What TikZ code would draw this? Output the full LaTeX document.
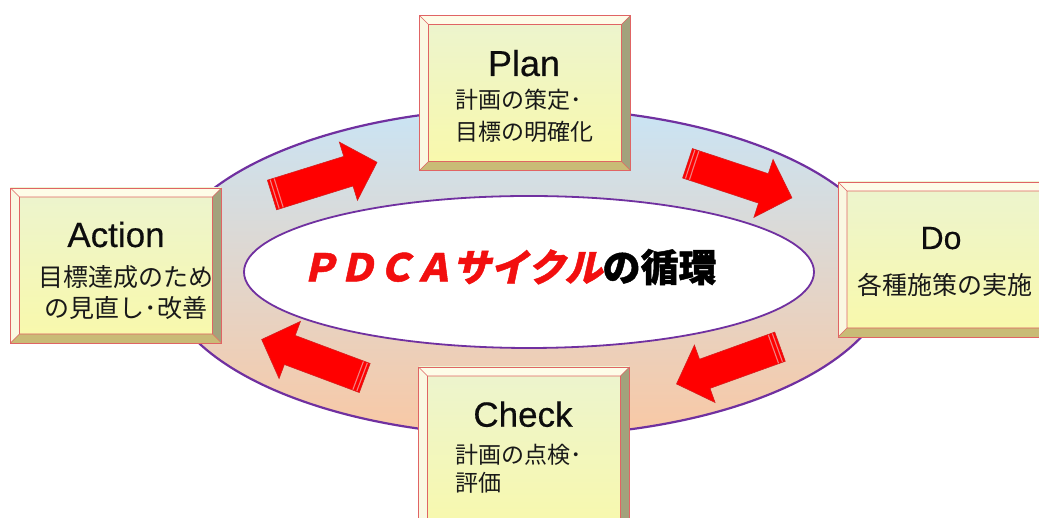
\documentclass[tikz,border=0pt]{standalone}
\usepackage{fontspec}
\usetikzlibrary{shapes.geometric}
\newfontfamily\cjk{Noto Sans CJK JP}
\newfontfamily\cjkslant[FakeSlant=0.22,FakeBold=1.2]{Noto Sans CJK JP}
\newfontfamily\cjkheavy[FakeBold=1.2]{Noto Sans CJK JP}
\newfontfamily\latin[FakeBold=0.4]{Liberation Sans}
\definecolor{ringtop}{HTML}{C9E4F5}
\definecolor{ringmid}{HTML}{E2DEDB}
\definecolor{ringbot}{HTML}{F9C8A4}
\definecolor{ringline}{HTML}{7030A0}
\definecolor{arrowred}{HTML}{FF0000}
\definecolor{arrowedge}{HTML}{D42020}
\definecolor{stripecol}{HTML}{F08080}
\definecolor{facetop}{HTML}{ECF4CF}
\definecolor{facebot}{HTML}{F9F9AA}
\definecolor{bevtop}{HTML}{FEFCE8}
\definecolor{bevleft}{HTML}{FAF8E2}
\definecolor{bevright}{HTML}{A2A27C}
\definecolor{bevbot}{HTML}{C9BB76}
\definecolor{boxline}{HTML}{E06464}
\definecolor{titlered}{HTML}{F20F0F}
\newcommand\boxbevel{%
  \path (path picture bounding box.south west) coordinate (bsw)
        (path picture bounding box.north east) coordinate (bne);
  \path (bsw |- bne) coordinate (bnw) (bne |- bsw) coordinate (bse);
  \path ([shift={(9pt,9pt)}]bsw) coordinate (isw) ([shift={(-9pt,-9pt)}]bne) coordinate (ine);
  \path (isw |- ine) coordinate (inw) (ine |- isw) coordinate (ise);
  \fill[bevtop] (bnw) -- (bne) -- (ine) -- (inw) -- cycle;
  \fill[bevleft] (bnw) -- (bsw) -- (isw) -- (inw) -- cycle;
  \fill[bevright] (bne) -- (bse) -- (ise) -- (ine) -- cycle;
  \fill[bevbot] (bsw) -- (bse) -- (ise) -- (isw) -- cycle;
  \draw[boxline, line width=0.6pt] (isw) rectangle (ine)
        (bnw) -- (inw) (bne) -- (ine) (bsw) -- (isw) (bse) -- (ise);
}
\newcommand\blockarrow[4]{%
  \begin{scope}[shift={(#2,#3)}, rotate=#4]
    \coordinate (#1) at (0,0);
    \filldraw[fill=arrowred, draw=arrowedge, line width=0.6pt]
      (0,-15.5) -- (80,-15.5) -- (80,-30.5) -- (110,0) -- (80,30.5) -- (80,15.5) -- (0,15.5) -- cycle;
    \draw[stripecol, line width=1.1pt] (2.8,-15) -- (2.8,15) (7,-15) -- (7,15);
  \end{scope}}
\tikzset{
  pbox/.style={minimum width=211pt, minimum height=155pt, inner sep=0pt,
    draw=boxline, line width=0.8pt, top color=facetop, bottom color=facebot,
    path picture={\boxbevel}},
  ttl/.style={font=\latin\fontsize{36}{36}\selectfont, inner sep=0pt, anchor=base, text=black!95},
  desc/.style={font=\cjk\fontsize{23}{32}\selectfont, inner sep=0pt, align=center, text=black!90},
}
\begin{document}
\begin{tikzpicture}[x=1pt,y=1pt]
\useasboundingbox (0,0) rectangle (1039,518);
\clip (0,0) rectangle (1039,518);
\fill[white] (0,0) rectangle (1039,518);

\node[ellipse, minimum width=728pt, minimum height=328pt, inner sep=0pt,
      top color=ringtop, middle color=ringmid, bottom color=ringbot,
      draw=ringline, line width=2.2pt] (ring) at (527,246) {};
\node[ellipse, minimum width=570pt, minimum height=152pt, inner sep=0pt,
      fill=white, draw=ringline, line width=1.8pt] (hub) at (529,246) {};
\node[inner sep=0pt, anchor=center] (hubtext) at (508.5,251)
  {\fontsize{38}{38}\selectfont\cjkslant\bfseries\textcolor{titlered}{ＰＤＣＡサイクル}\cjkheavy\bfseries の循環};

\blockarrow{a1}{272}{323}{17.3}
\blockarrow{a2}{687.5}{354.7}{-18.3}
\blockarrow{a3}{780}{171.3}{199.8}
\blockarrow{a4}{364.7}{140}{159.5}

\node[pbox] (plan) at (525,425) {};
\node[pbox] (action) at (116,252.5) {};
\node[pbox, minimum width=225pt] (do) at (950.5,258.5) {};
\node[pbox, minimum height=175pt] (check) at (524,63.5) {};

\node[ttl] (plan-t) at (524,442) {Plan};
\node[desc, align=left, anchor=west] (plan-d) at (455,402) {計画の策定･\\目標の明確化};

\node[ttl, font=\latin\fontsize{35}{35}\selectfont] (action-t) at (116,271) {Action};
\node[desc, font=\cjk\fontsize{25}{31}\selectfont] (action-d) at (126,225.5) {目標達成のため\\の見直し･改善};

\node[ttl, font=\latin\fontsize{32}{32}\selectfont] (do-t) at (941,269) {Do};
\node[desc, font=\cjk\fontsize{25}{31}\selectfont] (do-d) at (945,233) {各種施策の実施};

\node[ttl, font=\latin\fontsize{35}{35}\selectfont] (check-t) at (523,91.3) {Check};
\node[desc, font=\cjk\fontsize{23}{28}\selectfont, align=left, anchor=west] (check-d) at (455,49) {計画の点検･\\評価};
\end{tikzpicture}
\end{document}
